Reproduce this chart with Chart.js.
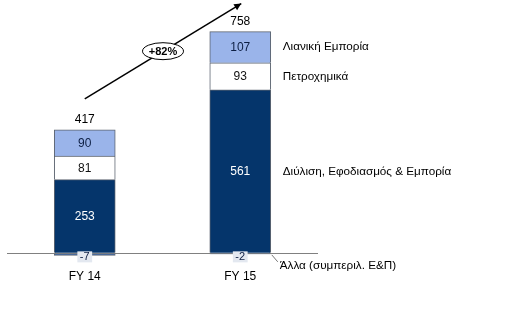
<!DOCTYPE html>
<html>
<head>
<meta charset="utf-8">
<script src="https://cdn.jsdelivr.net/npm/chart.js@4/dist/chart.umd.min.js"></script>
<style>
  html, body { margin: 0; padding: 0; background: #ffffff; }
  #wrap { width: 508px; height: 327px; position: relative; }
</style>
</head>
<body>
<div id="wrap"><canvas id="c" width="508" height="327"></canvas></div>
<script>
// EBITDA contribution by business segment (€m)
const categories = ['FY 14', 'FY 15'];
const refining = [253, 561];
const petchem = [81, 93];
const retail = [90, 107];
const other = [-7, -2];
const totals = [417, 758];
const seriesNames = [
  'Διύλιση, Εφοδιασμός & Εμπορία',
  'Πετροχημικά',
  'Λιανική Εμπορία',
  'Άλλα (συμπεριλ. Ε&Π)'
];

const NAVY = '#05356b';
const LIGHT = '#9ab4ea';
const FONT = '"Liberation Sans", Arial, sans-serif';

const segmentLabels = {
  id: 'segmentLabels',
  afterDatasetsDraw(chart) {
    const ctx = chart.ctx;
    const metas = [0, 1, 2, 3].map(i => chart.getDatasetMeta(i));
    const textColors = ['#ffffff', '#111111', '#0d1f44'];
    ctx.save();
    ctx.textAlign = 'center';
    ctx.textBaseline = 'middle';
    ctx.font = '12px ' + FONT;
    // positive segments
    for (let d = 0; d < 3; d++) {
      metas[d].data.forEach((el, i) => {
        const v = chart.data.datasets[d].data[i];
        ctx.fillStyle = textColors[d];
        ctx.fillText(String(v), el.x, (el.y + el.base) / 2 + 0.5);
      });
    }
    // small negative segment: boxed value straddling the baseline
    metas[3].data.forEach((el, i) => {
      const v = chart.data.datasets[3].data[i];
      const cy = el.base + 3;
      ctx.font = '11px ' + FONT;
      const w = ctx.measureText(String(v)).width + 5;
      ctx.fillStyle = '#e3e8f0';
      ctx.fillRect(el.x - w / 2, cy - 5.5, w, 11);
      ctx.fillStyle = '#0d1f44';
      ctx.fillText(String(v), el.x, cy + 0.5);
    });
    // totals above each bar
    ctx.font = '12px ' + FONT;
    ctx.fillStyle = '#000000';
    ctx.textBaseline = 'bottom';
    metas[2].data.forEach((el, i) => {
      ctx.fillText(String(totals[i]), el.x, el.y - 4);
    });
    // series names beside the last bar
    const last = categories.length - 1;
    ctx.textAlign = 'left';
    ctx.textBaseline = 'middle';
    ctx.fillStyle = '#000000';
    ctx.font = '11.7px ' + FONT;
    for (let d = 0; d < 3; d++) {
      const el = metas[d].data[last];
      ctx.fillText(seriesNames[d], el.x + el.width / 2 + 12, (el.y + el.base) / 2);
    }
    const oe = metas[3].data[last];
    const rx = oe.x + oe.width / 2;
    ctx.strokeStyle = '#777777';
    ctx.lineWidth = 1;
    ctx.beginPath();
    ctx.moveTo(rx + 1, oe.base + 1);
    ctx.lineTo(rx + 7, oe.base + 8);
    ctx.stroke();
    ctx.fillText(seriesNames[3], rx + 9, oe.base + 12);
    ctx.restore();
  }
};

const growthArrow = {
  id: 'growthArrow',
  afterDraw(chart) {
    const ctx = chart.ctx;
    const top = chart.getDatasetMeta(2).data;
    const x0 = top[0].x, y0 = top[0].y - 31;
    const x1 = top[1].x + 1, y1 = top[1].y - 28;
    ctx.save();
    ctx.strokeStyle = '#000000';
    ctx.fillStyle = '#000000';
    ctx.lineWidth = 1.5;
    ctx.beginPath();
    ctx.moveTo(x0, y0);
    ctx.lineTo(x1, y1);
    ctx.stroke();
    const ang = Math.atan2(y1 - y0, x1 - x0);
    const hl = 7, hw = 3.5;
    ctx.beginPath();
    ctx.moveTo(x1, y1);
    ctx.lineTo(x1 - hl * Math.cos(ang) + hw * Math.sin(ang), y1 - hl * Math.sin(ang) - hw * Math.cos(ang));
    ctx.lineTo(x1 - hl * Math.cos(ang) - hw * Math.sin(ang), y1 - hl * Math.sin(ang) + hw * Math.cos(ang));
    ctx.closePath();
    ctx.fill();
    const mx = (x0 + x1) / 2, my = (y0 + y1) / 2;
    ctx.beginPath();
    ctx.ellipse(mx, my, 20.5, 8.5, 0, 0, Math.PI * 2);
    ctx.fillStyle = '#ffffff';
    ctx.fill();
    ctx.lineWidth = 1;
    ctx.stroke();
    const pct = Math.round((totals[1] / totals[0] - 1) * 100);
    ctx.fillStyle = '#000000';
    ctx.font = 'bold 11px ' + FONT;
    ctx.textAlign = 'center';
    ctx.textBaseline = 'middle';
    ctx.fillText('+' + pct + '%', mx, my + 0.5);
    ctx.restore();
  }
};

new Chart(document.getElementById('c'), {
  type: 'bar',
  data: {
    labels: categories,
    datasets: [
      { label: seriesNames[0], data: refining, backgroundColor: NAVY },
      { label: seriesNames[1], data: petchem, backgroundColor: '#ffffff' },
      { label: seriesNames[2], data: retail, backgroundColor: LIGHT },
      { label: seriesNames[3], data: other, backgroundColor: '#4a6a9a' }
    ].map(ds => Object.assign(ds, {
      borderColor: '#5c6470',
      borderWidth: 1,
      barThickness: 61,
      stack: 's'
    }))
  },
  options: {
    responsive: false,
    animation: false,
    devicePixelRatio: 1,
    layout: { padding: { left: 7, right: 190, top: 10, bottom: 36.5 } },
    plugins: { legend: { display: false }, tooltip: { enabled: false } },
    scales: {
      x: {
        stacked: true,
        grid: { display: false, drawTicks: false },
        border: { display: false },
        ticks: { color: '#000000', font: { family: FONT, size: 12 }, padding: 7 }
      },
      y: {
        stacked: true,
        min: -30,
        max: 835,
        ticks: { display: false },
        border: { display: false },
        grid: {
          drawTicks: false,
          lineWidth: 1,
          color: c => (c.tick && c.tick.value === 0 ? '#808080' : 'rgba(0,0,0,0)')
        },
        afterBuildTicks: scale => { scale.ticks = [{ value: 0 }]; }
      }
    }
  },
  plugins: [segmentLabels, growthArrow]
});
</script>
</body>
</html>
